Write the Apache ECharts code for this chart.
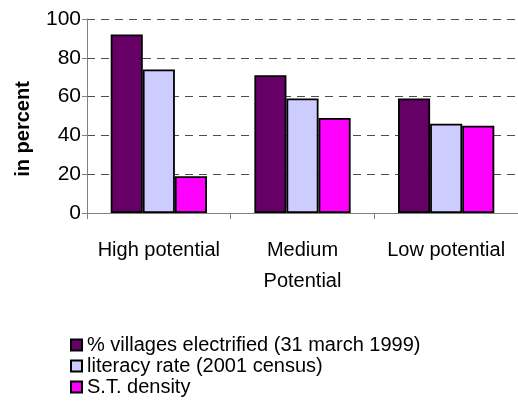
<!DOCTYPE html>
<html>
<head>
<meta charset="utf-8">
<script src="https://cdn.jsdelivr.net/npm/echarts@6/dist/echarts.min.js"></script>
<style>
  html, body { margin: 0; padding: 0; background: #fff; }
  #chart { width: 518px; height: 406px; }
</style>
</head>
<body>
<div id="chart"></div>
<script>
// Zones and indicator values (percent)
const categories = ['High potential', 'Medium\nPotential', 'Low potential'];
const seriesNames = [
  '% villages electrified (31 march 1999)',
  'literacy rate (2001 census)',
  'S.T. density'
];
const electrified = [92, 71, 59];
const literacy = [74, 59, 46];
const stDensity = [19, 49, 45];
const yTicks = [0, 20, 40, 60, 80, 100];

const colors = ['#660066', '#CCCCFF', '#FF00FF'];
const FONT = '"Liberation Sans", Arial, sans-serif';

const chart = echarts.init(document.getElementById('chart'), null, { renderer: 'canvas' });

function bar(name, data, color) {
  return {
    name: name,
    type: 'bar',
    data: data,
    barGap: '0%',
    barCategoryGap: '33%',
    itemStyle: { color: color, borderColor: '#000', borderWidth: 1.8 },
    emphasis: { disabled: true }
  };
}

chart.setOption({
  animation: false,
  backgroundColor: '#fff',
  textStyle: { fontFamily: FONT },
  grid: { left: 87, top: 19, width: 433, height: 194, containLabel: false },
  xAxis: {
    type: 'category',
    data: categories,
    axisLine: { lineStyle: { color: '#808080', width: 1 } },
    axisTick: { show: true, length: 6, interval: 0, lineStyle: { color: '#808080' } },
    axisLabel: {
      interval: 0, margin: 22, color: '#000', fontSize: 20, lineHeight: 31,
      fontFamily: FONT
    }
  },
  yAxis: {
    type: 'value',
    min: yTicks[0],
    max: yTicks[yTicks.length - 1],
    interval: yTicks[1] - yTicks[0],
    name: 'in percent',
    nameLocation: 'middle',
    nameRotate: 90,
    nameGap: 54,
    nameTextStyle: {
      fontSize: 20, fontWeight: 'bold', color: '#000', fontFamily: FONT,
      padding: [0, 26, 0, 0]
    },
    axisLine: { show: true, lineStyle: { color: '#808080', width: 1 } },
    axisTick: { show: true, length: 5, lineStyle: { color: '#808080' } },
    axisLabel: { color: '#000', fontSize: 21, margin: 6, fontFamily: FONT },
    splitLine: { show: true, lineStyle: { color: '#4d4d4d', type: [8, 6], width: 1 } }
  },
  legend: {
    orient: 'vertical',
    left: 70,
    top: 335,
    padding: 0,
    itemWidth: 11,
    itemHeight: 11,
    itemGap: 1,
    icon: 'rect',
    data: seriesNames,
    textStyle: { fontSize: 20, color: '#000', fontFamily: FONT },
    selectedMode: false
  },
  series: [
    bar(seriesNames[0], electrified, colors[0]),
    bar(seriesNames[1], literacy, colors[1]),
    bar(seriesNames[2], stDensity, colors[2])
  ]
});
</script>
</body>
</html>
